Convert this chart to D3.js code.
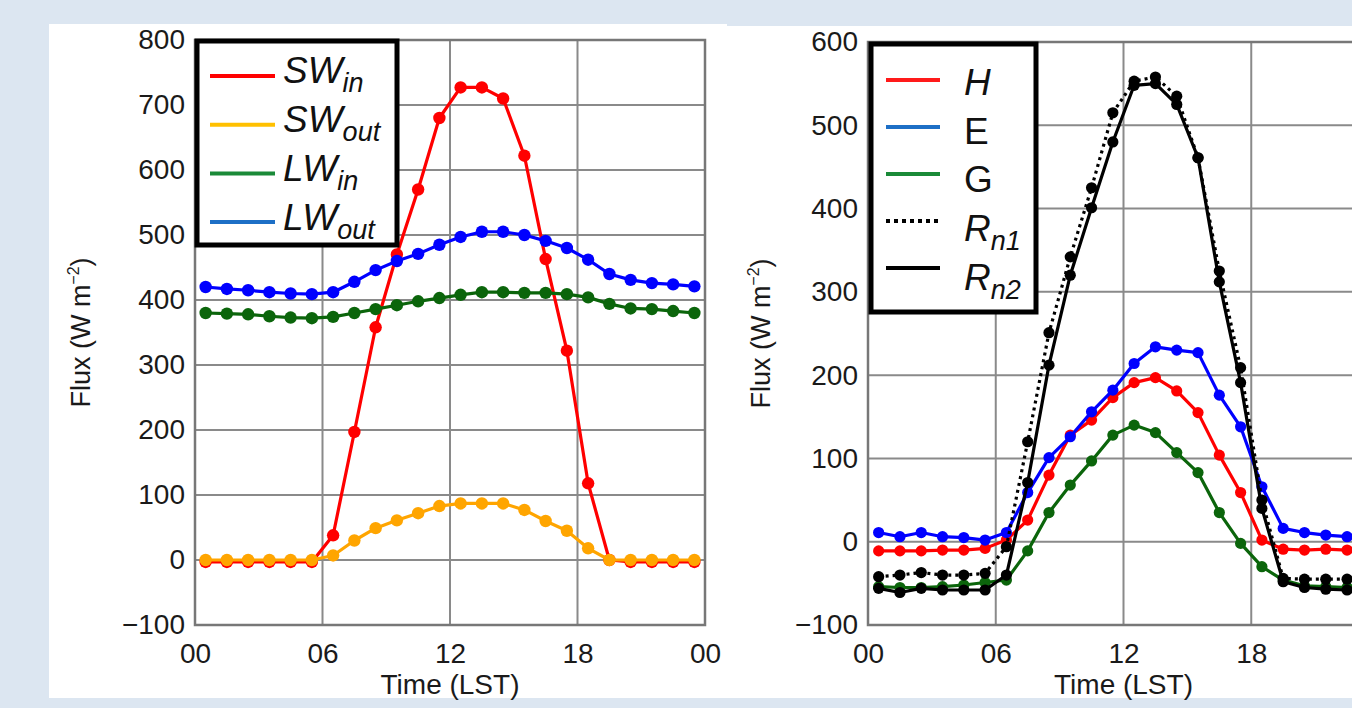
<!DOCTYPE html>
<html>
<head>
<meta charset="utf-8">
<script src="https://cdn.jsdelivr.net/npm/d3@7"></script>
<style>
  body { margin: 0; background: #dce6f1; }
  svg { display: block; font-family: 'Liberation Sans', Arial, Helvetica, sans-serif; }
</style>
</head>
<body>
<svg width="1352" height="708"></svg>
<script>
// hour of each sample (LST)
const hours = [0.5, 1.5, 2.5, 3.5, 4.5, 5.5, 6.5, 7.5, 8.5, 9.5, 10.5, 11.5,
  12.5, 13.5, 14.5, 15.5, 16.5, 17.5, 18.5, 19.5, 20.5, 21.5, 22.5, 23.5]
const xTicks = [0, 6, 12, 18, 24]
const xTickLabels = ['00', '06', '12', '18', '00']
const yTicksRad = [-100, 0, 100, 200, 300, 400, 500, 600, 700, 800]
const yTicksTurb = [-100, 0, 100, 200, 300, 400, 500, 600]

// radiation components
const swIn = [-3, -3, -3, -3, -3, -3, 38, 197, 358, 470, 570, 680, 727, 727, 710, 622, 463, 322, 118, 0, -3, -3, -3, -3]
const swOut = [0, 0, 0, 0, 0, 0, 7, 30, 49, 61, 72, 83, 87, 87, 87, 77, 60, 45, 18, 0, 0, 0, 0, 0]
const lwIn = [380, 379, 378, 375, 373, 372, 374, 380, 386, 392, 398, 403, 408, 412, 412, 411, 411, 409, 404, 394, 387, 386, 383, 380]
const lwOut = [420, 417, 415, 412, 410, 409, 412, 428, 446, 460, 471, 485, 497, 505, 505, 500, 491, 480, 462, 440, 431, 426, 424, 421]

// energy balance components
const fluxH = [-11, -11, -11, -10, -10, -8, 2, 26, 80, 128, 146, 173, 191, 197, 181, 155, 104, 59, 2, -9, -10, -9, -10, -10]
const fluxE = [11, 6, 11, 6, 5, 2, 11, 59, 101, 126, 156, 182, 214, 234, 230, 227, 176, 138, 66, 16, 11, 8, 6, 5]
const fluxG = [-54, -55, -55, -54, -52, -49, -46, -11, 35, 68, 97, 128, 140, 131, 107, 83, 35, -2, -30, -46, -53, -54, -55, -55]
const rn1 = [-42, -40, -37, -40, -40, -38, -6, 120, 251, 342, 425, 515, 553, 558, 535, 461, 325, 209, 50, -44, -45, -45, -45, -45]
const rn2 = [-56, -61, -56, -58, -58, -58, -40, 71, 212, 320, 401, 480, 548, 550, 525, 461, 312, 191, 40, -48, -55, -57, -58, -58]

const svg = d3.select('svg')

function drawPanel (p) {
  const g = svg.append('g')

  g.append('rect')
    .attr('x', p.panel[0]).attr('y', p.panel[1])
    .attr('width', p.panel[2] - p.panel[0]).attr('height', p.panel[3] - p.panel[1])
    .attr('fill', '#fff')

  const x = d3.scaleLinear([0, 24], [p.left, p.left + p.width])
  const y = d3.scaleLinear(d3.extent(p.yTicks), [p.bottom, p.top])

  // grid
  g.append('g').selectAll('line')
    .data(p.yTicks)
    .join('line')
    .attr('x1', x(0)).attr('x2', x(24))
    .attr('y1', d => y(d)).attr('y2', d => y(d))
    .attr('stroke', '#8a8a8a').attr('stroke-width', 2)
  g.append('g').selectAll('line')
    .data(xTicks.slice(1, -1))
    .join('line')
    .attr('x1', d => x(d)).attr('x2', d => x(d))
    .attr('y1', y.range()[0]).attr('y2', y.range()[1])
    .attr('stroke', '#8a8a8a').attr('stroke-width', 2)
  g.append('rect')
    .attr('x', x(0)).attr('y', y.range()[1])
    .attr('width', x(24) - x(0)).attr('height', y.range()[0] - y.range()[1])
    .attr('fill', 'none').attr('stroke', '#777').attr('stroke-width', 2.5)

  // axes
  const yAxis = d3.axisLeft(y).tickValues(p.yTicks).tickSize(0).tickPadding(10)
  g.append('g')
    .attr('transform', `translate(${ x(0) },0)`)
    .call(yAxis)
    .call(a => a.select('.domain').remove())
    .attr('font-size', 28).attr('font-family', null)
  const xAxis = d3.axisBottom(x).tickValues(xTicks.slice(0, p.xTickCount)).tickSize(0).tickPadding(18)
    .tickFormat((d, i) => xTickLabels[i])
  g.append('g')
    .attr('transform', `translate(0,${ y.range()[0] })`)
    .call(xAxis)
    .call(a => a.select('.domain').remove())
    .attr('font-size', 28).attr('font-family', null)
  g.selectAll('.tick text').attr('fill', '#1a1a1a')

  g.append('text')
    .attr('x', x(12)).attr('y', 694)
    .attr('text-anchor', 'middle')
    .attr('font-size', 28).attr('fill', '#1a1a1a')
    .text('Time (LST)')

  const yTitle = g.append('text')
    .attr('transform', `translate(${ p.yTitleX },${ (y.range()[0] + y.range()[1]) / 2 }) rotate(-90)`)
    .attr('text-anchor', 'middle').attr('dy', '0.35em')
    .attr('font-size', 27).attr('fill', '#1a1a1a')
  yTitle.append('tspan').text('Flux (W m')
  yTitle.append('tspan').attr('font-size', 16).attr('dy', -11).text('−2')
  yTitle.append('tspan').attr('dy', 11).text(')')

  // series
  const line = d3.line().x((d, i) => x(hours[i])).y(d => y(d))
  p.series.forEach(s => {
    const sg = g.append('g')
    sg.append('path')
      .datum(s.values)
      .attr('d', line)
      .attr('fill', 'none')
      .attr('stroke', s.color)
      .attr('stroke-width', 3.2)
      .attr('stroke-linejoin', 'round')
      .attr('stroke-dasharray', s.dash ? '3 4' : null)
    sg.selectAll('circle')
      .data(s.values)
      .join('circle')
      .attr('cx', (d, i) => x(hours[i]))
      .attr('cy', d => y(d))
      .attr('r', p.r)
      .attr('fill', s.color)
  })

  // legend
  const lg = p.legend
  g.append('rect')
    .attr('x', lg.x).attr('y', lg.y)
    .attr('width', lg.w).attr('height', lg.h)
    .attr('fill', '#fff').attr('stroke', '#000').attr('stroke-width', 5)
  p.series.forEach((s, i) => {
    const ly = lg.lineY0 + i * lg.lineStep
    g.append('line')
      .attr('x1', lg.lineX1).attr('x2', lg.lineX2)
      .attr('y1', ly).attr('y2', ly)
      .attr('stroke', s.legendColor).attr('stroke-width', 4)
      .attr('stroke-dasharray', s.dash ? '4 4' : null)
    const t = g.append('text')
      .attr('x', lg.textX).attr('y', lg.textY0 + i * lg.textStep)
      .attr('font-size', 37).attr('fill', '#111')
      .attr('font-style', s.italic ? 'italic' : null)
    t.append('tspan').text(s.label)
    if (s.sub) t.append('tspan').attr('font-size', 27).attr('dy', 9).text(s.sub)
  })
}

drawPanel({
  panel: [49, 24, 727, 698],
  left: 195, width: 510, top: 40, bottom: 625,
  yTicks: yTicksRad, xTickCount: 5, yTitleX: 81, r: 6.2,
  legend: { x: 197, y: 41, w: 200, h: 204, lineX1: 210, lineX2: 275, lineY0: 76, lineStep: 48.7, textX: 283, textY0: 83, textStep: 49 },
  series: [
    { values: swIn, color: '#ff0000', legendColor: '#ff0000', label: 'SW', sub: 'in', italic: true },
    { values: swOut, color: '#ffa500', legendColor: '#ffc000', label: 'SW', sub: 'out', italic: true },
    { values: lwIn, color: '#0b650b', legendColor: '#1a8a38', label: 'LW', sub: 'in', italic: true },
    { values: lwOut, color: '#0000ff', legendColor: '#1d6fc6', label: 'LW', sub: 'out', italic: true },
  ],
})

drawPanel({
  panel: [727, 26, 1352, 698],
  left: 868, width: 511, top: 42, bottom: 625,
  yTicks: yTicksTurb, xTickCount: 4, yTitleX: 761, r: 5.6,
  legend: { x: 871, y: 44, w: 165, h: 268, lineX1: 886, lineX2: 940, lineY0: 80, lineStep: 47, textX: 964, textY0: 95, textStep: 48.7 },
  series: [
    { values: fluxH, color: '#ff0000', legendColor: '#ff1a1a', label: 'H', italic: true },
    { values: fluxE, color: '#0000ff', legendColor: '#1d6fc6', label: 'E' },
    { values: fluxG, color: '#0b650b', legendColor: '#1a8a38', label: 'G' },
    { values: rn1, color: '#000', legendColor: '#000', label: 'R', sub: 'n1', italic: true, dash: true },
    { values: rn2, color: '#000', legendColor: '#000', label: 'R', sub: 'n2', italic: true },
  ],
})
</script>
</body>
</html>
